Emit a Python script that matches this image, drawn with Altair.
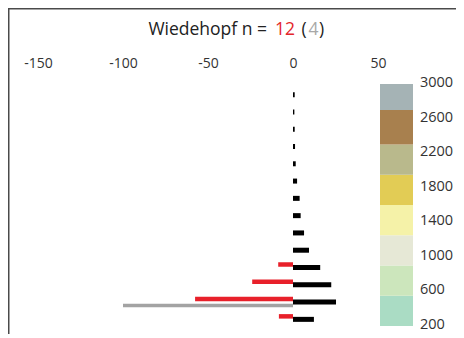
import altair as alt
import pandas as pd

# ---- data ----
altitudes = [2900, 2700, 2500, 2300, 2100, 1900, 1700, 1500, 1300, 1100, 900, 700, 500, 300]
black_vals = [1.0, 0.8, 1.0, 1.2, 1.6, 2.4, 3.9, 4.5, 6.5, 9.4, 16.0, 22.5, 25.3, 12.3]
red_alt = [900, 700, 500, 300]
red_vals = [-8.7, -24.0, -57.6, -8.3]
grey_alt = [500]
grey_vals = [-100.0]

band_lo = [200, 550, 900, 1250, 1600, 1950, 2300, 2700]
band_hi = [550, 900, 1250, 1600, 1950, 2300, 2700, 3000]
band_colors = ["#aadcc4", "#cce6bc", "#e6e8d6", "#f5f2a8", "#e2cc55", "#b9b98c", "#a8804e", "#a5b3b5"]

x_ticks = [-150, -100, -50, 0, 50]
legend_ticks = [200, 600, 1000, 1400, 1800, 2200, 2600, 3000]

FONT = "Open Sans"

black_df = pd.DataFrame({"alt": altitudes, "v": black_vals, "z": 0})
red_df = pd.DataFrame({"alt": red_alt, "v": red_vals, "z": 0})
grey_df = pd.DataFrame({"alt": grey_alt, "v": grey_vals, "z": 0})
band_df = pd.DataFrame({"lo": band_lo, "hi": band_hi, "c": band_colors})
lab_df = pd.DataFrame({"alt": legend_ticks, "t": [str(v) for v in legend_ticks]})

xscale = alt.Scale(domain=[-167.65, 50], nice=False, zero=False)
yscale = alt.Scale(domain=[200, 3000], nice=False, zero=False)

x_axis = alt.Axis(orient="top", values=x_ticks, title=None, domain=False, ticks=False, tickSize=0,
                  grid=False, labelPadding=14, labelFont=FONT, labelFontSize=14,
                  labelColor="#333333", labelFlush=False, labelOverlap=False,
                  labelExpr="'' + datum.value")

black = alt.Chart(black_df).mark_rule(color="#000000", strokeWidth=5, yOffset=2).encode(
    x=alt.X("v:Q", scale=xscale, axis=x_axis),
    x2="z:Q",
    y=alt.Y("alt:Q", scale=yscale, axis=None),
)
red = alt.Chart(red_df).mark_rule(color="#e8202a", strokeWidth=4.5, yOffset=-1).encode(
    x=alt.X("v:Q", scale=xscale, title=None),
    x2="z:Q",
    y=alt.Y("alt:Q", scale=yscale, axis=None),
)
grey = alt.Chart(grey_df).mark_rule(color="#a3a3a3", strokeWidth=3.5, yOffset=5.5).encode(
    x=alt.X("v:Q", scale=xscale, title=None),
    x2="z:Q",
    y=alt.Y("alt:Q", scale=yscale, axis=None),
)

bands = alt.Chart(band_df).mark_rect().encode(
    x=alt.value(372), x2=alt.value(405),
    y=alt.Y("lo:Q", scale=yscale, axis=None),
    y2="hi:Q",
    color=alt.Color("c:N", scale=None),
)

legend_labels = alt.Chart(lab_df).mark_text(
    font=FONT, fontSize=14.5, color="#333333", align="left", baseline="middle", dy=-1
).encode(
    x=alt.value(412),
    y=alt.Y("alt:Q", scale=yscale, axis=None),
    text="t:N",
)

def title_part(txt, xpos, color, align):
    return alt.Chart(pd.DataFrame({"t": [txt]})).mark_text(
        font=FONT, fontSize=17.5, color=color, align=align, baseline="middle"
    ).encode(text="t:N", x=alt.value(xpos), y=alt.value(-54))

t1 = title_part("Wiedehopf n =", 259, "#222222", "right")
t2 = title_part("12", 267, "#e3262b", "left")
t3 = title_part("(", 293.5, "#222222", "left")
t4 = title_part("4", 300.5, "#a8a8a8", "left")
t5 = title_part(")", 311, "#222222", "left")

frame_df = pd.DataFrame({"k": [0]})
top_line = alt.Chart(frame_df).mark_rule(color="#4a4a4a", strokeWidth=2).encode(
    x=alt.value(0), x2=alt.value(448), y=alt.value(-75.5))
left_line = alt.Chart(frame_df).mark_rule(color="#4a4a4a", strokeWidth=2).encode(
    x=alt.value(0.5), y=alt.value(-76), y2=alt.value(250))

chart = alt.layer(black, bands, grey, red, legend_labels, t1, t2, t3, t4, t5, top_line, left_line).properties(
    width=370, height=242,
    autosize=alt.AutoSizeParams(type="none"),
    padding={"left": 0, "top": 76, "right": 78, "bottom": 8},
    background="white",
).configure_view(stroke=None)

chart.save("out.html", embed_options={"renderer": "svg", "actions": False})
